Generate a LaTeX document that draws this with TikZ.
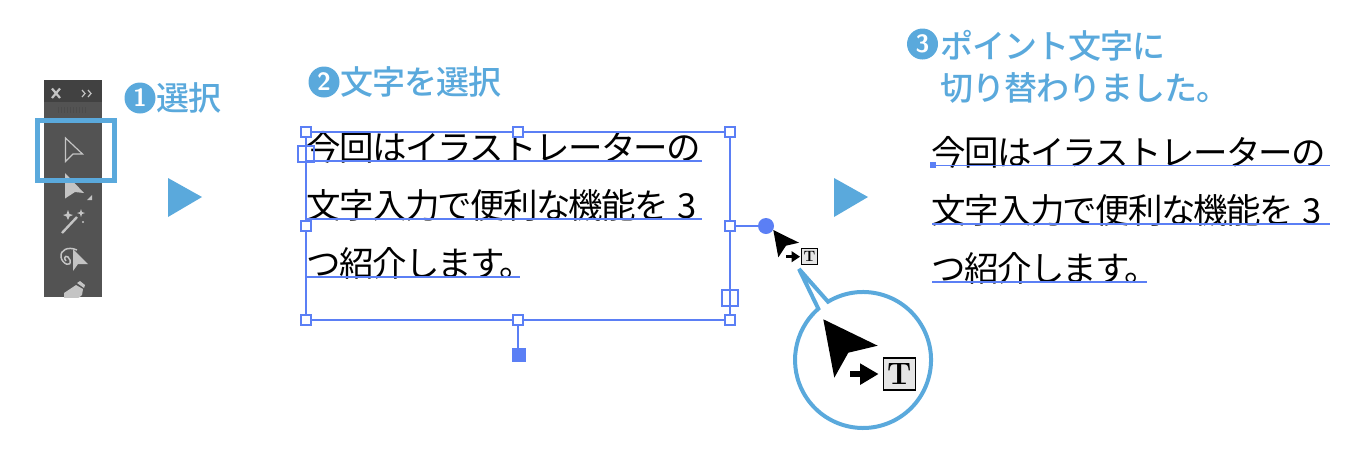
\documentclass[tikz,border=0pt]{standalone}
\usepackage{fontspec}
\newfontfamily\jp[LetterSpace=-5]{Noto Sans CJK JP}
\newfontfamily\jpt[LetterSpace=-3]{Noto Sans CJK JP Medium}
\definecolor{sky}{HTML}{5AA9DC}
\definecolor{hblue}{HTML}{5B7FF5}
\definecolor{panel}{HTML}{535353}
\definecolor{panelhead}{HTML}{414141}
\definecolor{ico}{HTML}{C4C4C4}
\tikzset{
  handle/.style={draw=hblue,line width=1.8pt,fill=white,minimum size=10pt,inner sep=0pt,rectangle},
  port/.style={draw=hblue,line width=1.8pt,fill=none,minimum size=16pt,inner sep=0pt,rectangle},
  bline/.style={draw=hblue,line width=1.8pt},
  tline/.style={draw=hblue,line width=1.1pt},
  body/.style={anchor=base west,inner sep=0pt,font=\jp\fontsize{34.5}{38}\selectfont},
  title/.style={anchor=base west,inner sep=0pt,text=sky,font=\jpt\fontsize{33}{38}\selectfont},
  numdot/.style={circle,fill=sky,text=white,inner sep=0pt,minimum size=31pt,font=\sffamily\bfseries\fontsize{25}{26}\selectfont},
  play/.style={fill=sky,draw=none},
  tbox/.style={rectangle,draw=black,fill=black!10,inner sep=0pt},
}
\begin{document}
\begin{tikzpicture}[x=1pt,y=-1pt]
\useasboundingbox (0,0) rectangle (1348,448);
% toolbar
\fill[panel] (44,80) rectangle (102,297);
\fill[panelhead] (44,80) rectangle (102,102);
\draw[ico,line width=2.2pt] (52,88.5) -- (60,98) (60,88.5) -- (52,98);
\draw[ico,line width=1.2pt] (82,90) -- (85,93.5) -- (82,97) (88,90) -- (91,93.5) -- (88,97);
\foreach \i in {0,...,9} \draw[black!70,line width=1pt] ({58+\i*3},107) -- ({58+\i*3},113);
\draw[ico,line width=1.2pt,line join=miter] (65.5,138) -- (82.5,154) -- (73,154) -- (65.5,161.5) -- cycle;
\fill[ico] (65,173) -- (84,193) -- (75,192) -- (65,198.5) -- cycle;
\fill[ico] (92,195) -- (92,200) -- (87,200) -- cycle;
\draw[ico,line width=2.4pt] (62,233) -- (77,217);
\fill[ico] (68,210) -- (69.5,214) -- (73,215) -- (69.5,216.5) -- (68,220) -- (66.5,216.5) -- (63,215) -- (66.5,214) -- cycle;
\fill[ico] (81,209) -- (82,212) -- (85,213) -- (82,214) -- (81,217) -- (80,214) -- (77,213) -- (80,212) -- cycle;
\fill[ico] (83,222) circle (1.2pt);
\draw[ico,line width=1.5pt] (77,250) .. controls (68,246) and (60,250) .. (61,257) .. controls (62,264) and (72,268) .. (70,260) .. controls (68,254) and (62,256) .. (66,261);
\fill[ico] (73,249) -- (88,264) -- (78,264) -- (73,271) -- cycle;
\begin{scope}
\clip (44,280) rectangle (102,297);
\fill[ico] (64,293) -- (76,285) -- (83,289) -- (82,295) -- (76,300) -- (64,300) -- cycle;
\fill[ico] (77,283) -- (80,281) -- (85,285) -- (84,288) -- cycle;
\end{scope}
\draw[sky,line width=5pt] (37.5,120.8) rectangle (114.2,180);
% play arrows
\fill[play] (168,178) -- (202,197) -- (168,217) -- cycle;
\fill[play] (834,178) -- (868,197) -- (834,217) -- cycle;
% titles
\node[numdot] (n1) at (140,98) {1};
\node[title] (t1) at (156.5,110) {選択};
\node[numdot] (n2) at (324,82) {2};
\node[title] (t2) at (340.5,94) {文字を選択};
\node[numdot] (n3) at (922.5,44) {3};
\node[title] (t3) at (940.5,58) {ポイント文字に};
\node[title] (t4) at (940.5,100) {切り替わりました。};
% text 2
\node[body] (a1) at (306.5,160.5) {今回はイラストレーターの};
\node[body] (a2) at (306.5,218.5) {文字入力で便利な機能を\hspace{9pt}3};
\node[body] (a3) at (306.5,276.5) {つ紹介します。};
\coordinate (u1a) at (306,161); \coordinate (u1b) at (702,161);
\coordinate (u2a) at (306,219); \coordinate (u2b) at (702,219);
\coordinate (u3a) at (306,277); \coordinate (u3b) at (520,277);
\draw[bline] (u1a) -- (u1b) (u2a) -- (u2b) (u3a) -- (u3b);
% frame
\coordinate (tl) at (306,132); \coordinate (tr) at (730,132);
\coordinate (bl) at (306,320); \coordinate (br) at (730,320);
\draw[bline] (tl) -- (tr) -- (br) -- (bl) -- cycle;
\node[port] (p1) at (306,154) {};
\node[port] (p2) at (730,298) {};
\node[handle] (h1) at (tl) {};
\node[handle] (h2) at (518,132) {};
\node[handle] (h3) at (tr) {};
\node[handle] (h4) at (306,226) {};
\node[handle] (h5) at (730,226) {};
\node[handle] (h6) at (bl) {};
\node[handle] (h7) at (518,320) {};
\node[handle] (h8) at (br) {};
\node[rectangle,fill=hblue,minimum size=14pt,inner sep=0pt] (rot) at (519,355) {};
\node[circle,fill=hblue,minimum size=16pt,inner sep=0pt] (dot) at (766,226) {};
\draw[bline] (h7) -- (h7 |- rot.north);
\draw[bline] (h5) -- (dot);
% small cursor
\fill[black] (773.3,230) -- (799,242.7) -- (786,245.7) -- (778.3,257.3) -- cycle;
\node[tbox,line width=1pt,minimum size=15.5pt,font=\rmfamily\bfseries\fontsize{15}{15}\selectfont] (ts) at (809.5,256.7) {T};
\coordinate (sa) at (786,256.7);
\draw[black,line width=2.6pt] (sa) -- (794,256.7);
\fill[black] (791.5,251) -- (800,256.7) -- (791.5,262.4) -- cycle;
% bubble
\coordinate (tip) at (799,269);
\draw[sky,line width=4pt,fill=white,line join=miter,miter limit=4] (tip) -- (828,301.7) arc[start angle=-121,end angle=228.9,radius=68] -- cycle;
\fill[black] (823.3,319.3) -- (877.7,345.7) -- (848.3,352.7) -- (834.3,377.7) -- cycle;
\node[tbox,line width=1.5pt,minimum size=32pt,font=\rmfamily\bfseries\fontsize{31}{31}\selectfont] (tb) at (899.3,374) {T};
\coordinate (ba) at (850,374);
\draw[black,line width=6.6pt] (ba) -- (862,374);
\fill[black] (860,363.3) -- (878.3,374) -- (860,385) -- cycle;
% text 3
\node[body] (b1) at (931.5,165) {今回はイラストレーターの};
\node[body] (b2) at (931.5,223.5) {文字入力で便利な機能を\hspace{9pt}3};
\node[body] (b3) at (931.5,281.5) {つ紹介します。};
\coordinate (v1a) at (932,165.5); \coordinate (v1b) at (1330,165.5);
\coordinate (v2a) at (932,224); \coordinate (v2b) at (1330,224);
\coordinate (v3a) at (932,282); \coordinate (v3b) at (1147,282);
\draw[tline] (v1a) -- (v1b) (v2a) -- (v2b) (v3a) -- (v3b);
\node[rectangle,fill=hblue,minimum size=6pt,inner sep=0pt] (pt) at (933,165) {};
\end{tikzpicture}
\end{document}
